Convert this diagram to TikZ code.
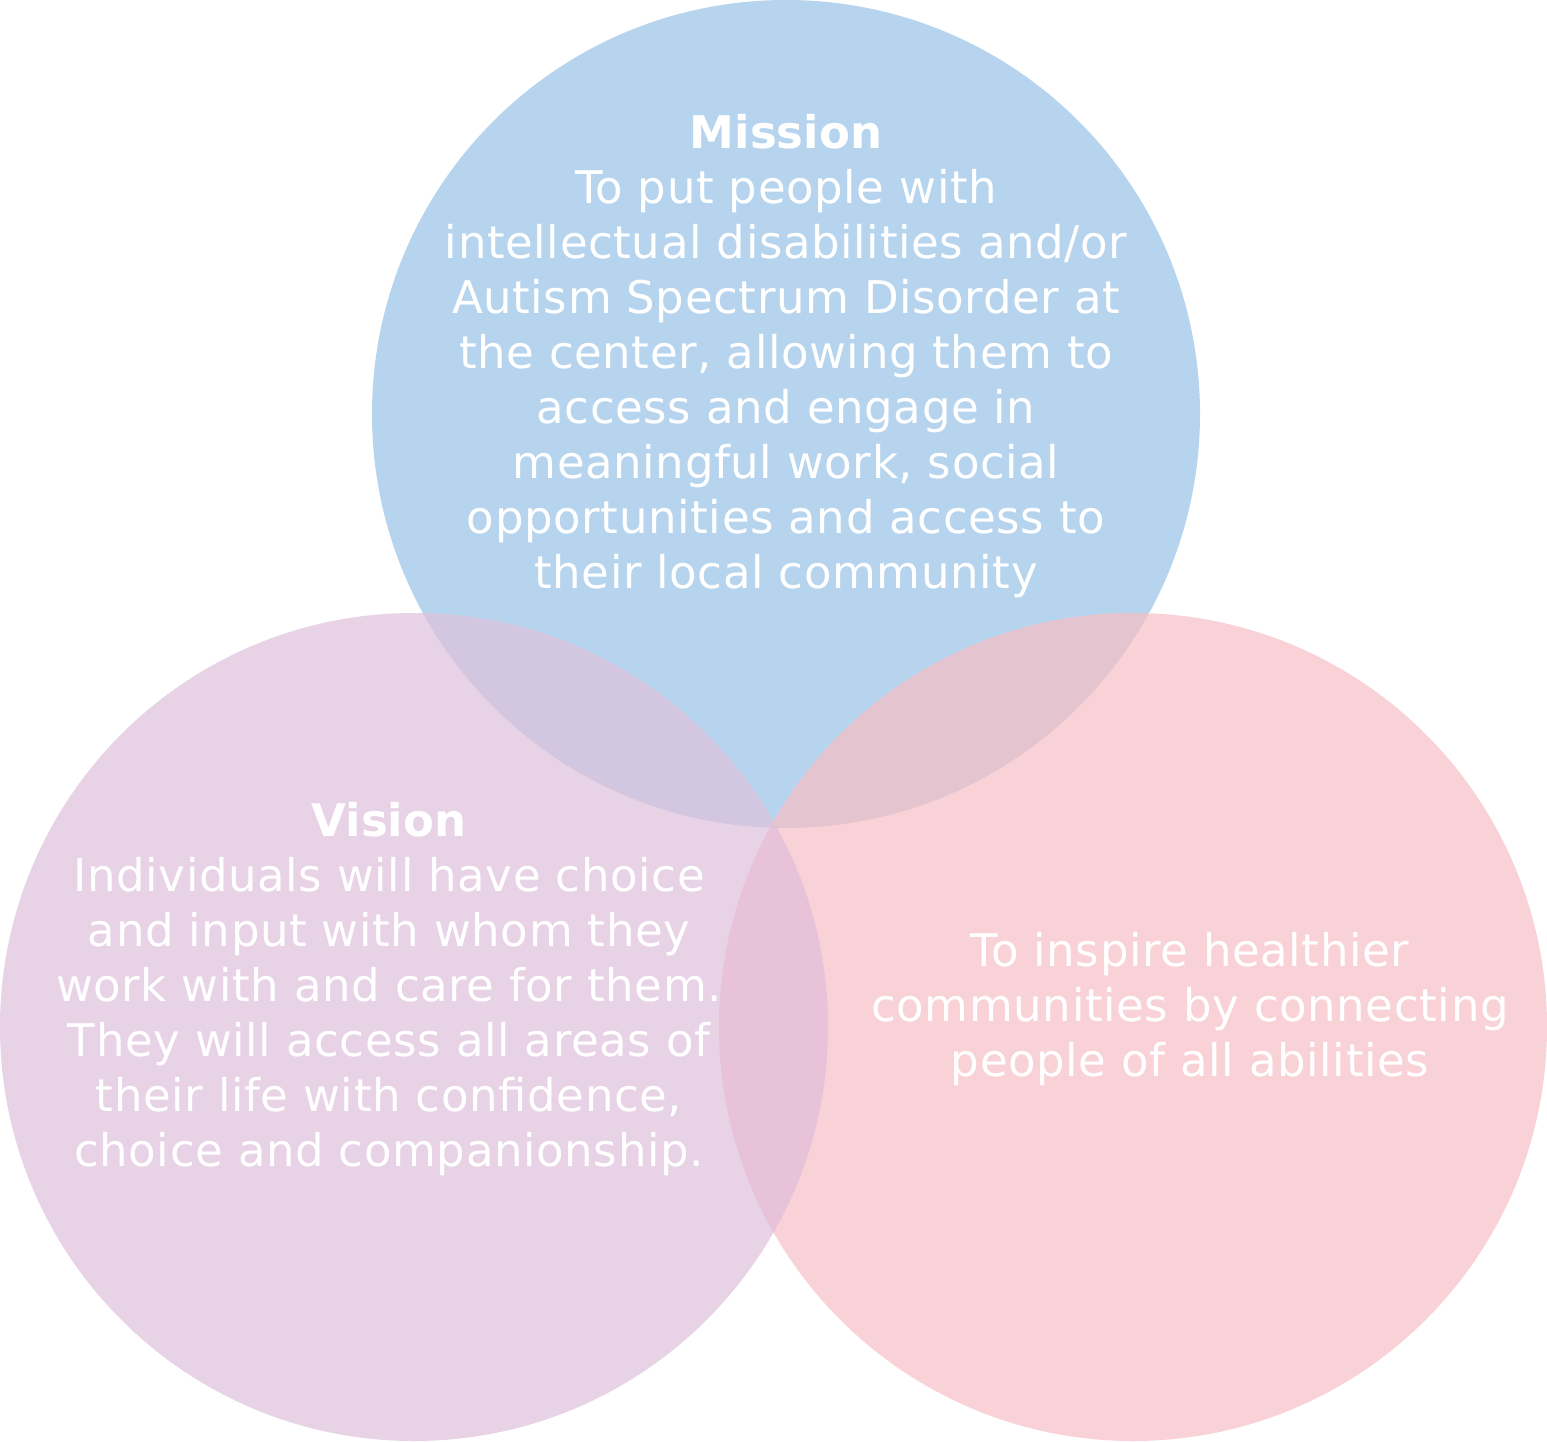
\documentclass[tikz,border=0pt]{standalone}
\usepackage{fontspec}
\setmainfont{DejaVu Sans}
\newfontfamily\bodyfont{DejaVu Sans}[LetterSpace=1.4]
\definecolor{cblue}{HTML}{B7D4EE}
\definecolor{cpurple}{HTML}{E8D2E6}
\definecolor{cpink}{HTML}{F9D2D7}
\definecolor{cbp}{HTML}{D3C6E0}
\definecolor{cbk}{HTML}{E4C5CF}
\definecolor{cpk}{HTML}{E8C2D8}
\definecolor{ctri}{HTML}{E0C1D8}
\tikzset{
  venntext/.style={text=white, align=center, font=\fontsize{45}{55}\selectfont\bodyfont, inner sep=0pt}
}
\newcommand{\ttl}[1]{{\normalfont\fontsize{45}{55}\selectfont\bfseries #1}}
\begin{document}
\begin{tikzpicture}[x=1pt,y=-1pt]
\useasboundingbox (0pt,0pt) rectangle (1547pt,-1442pt);
\def\cM{(786,414) circle[radius=414pt]}
\def\cV{(414,1027) circle[radius=414pt]}
\def\cI{(1133,1027) circle[radius=414pt]}
\fill[cblue] \cM;
\fill[cpink] \cI;
\fill[cpurple] \cV;
\begin{scope}\clip \cM; \fill[cbp] \cV; \fill[cbk] \cI; \end{scope}
\begin{scope}\clip \cV; \fill[cpk] \cI; \end{scope}
\begin{scope}\clip \cM; \clip \cV; \fill[ctri] \cI; \end{scope}
\node[venntext] (mission) at (786,356) {\ttl{Mission}\\To put people with\\intellectual disabilities and/or\\Autism Spectrum Disorder at\\the center, allowing them to\\access and engage in\\meaningful work, social\\opportunities and access to\\their local community};
\node[venntext] (vision) at (389,989) {\ttl{Vision}\\Individuals will have choice\\and input with whom they\\work with and care for them.\\They will access all areas of\\their life with confidence,\\choice and companionship.};
\node[venntext] (inspire) at (1190,1009) {To inspire healthier\\communities by connecting\\people of all abilities};
\end{tikzpicture}
\end{document}
